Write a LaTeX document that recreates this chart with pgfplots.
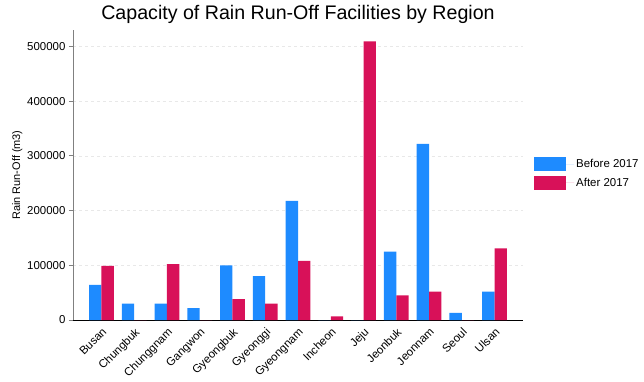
\documentclass[border=0pt]{standalone}
\usepackage{pgfplots}
\pgfplotsset{compat=1.18}
\usepackage{fontspec}
\setmainfont{Liberation Sans}
\definecolor{cblue}{HTML}{1E8BFF}
\definecolor{cred}{HTML}{D81159}
\begin{document}
\begin{tikzpicture}
\begin{axis}[
  scale only axis,
  width=450bp, height=290bp,
  at={(0,0)}, anchor=south west,
  xmin=-0.87, xmax=12.87,
  ymin=0, ymax=530000,
  axis x line*=bottom, axis y line*=left,
  x axis line style={black, line width=0.8pt},
  y axis line style={gray, line width=0.8pt},
  ytick={0,100000,200000,300000,400000,500000},
  scaled y ticks=false,
  /pgf/number format/assume math mode=true,
  yticklabel style={/pgf/number format/fixed, /pgf/number format/1000 sep={}, font=\fontsize{11.5}{13}\selectfont},
  xtick={0,...,12},
  xticklabels={Busan,Chungbuk,Chunggnam,Gangwon,Gyeongbuk,Gyeonggi,Gyeongnam,Incheon,Jeju,Jeonbuk,Jeonnam,Seoul,Ulsan},
  xticklabel style={rotate=45, anchor=north east, font=\fontsize{11.5}{13}\selectfont, inner sep=2pt},
  x tick style={draw=none},
  y tick style={gray, line width=0.8pt},
  tick align=outside,
  major tick length=4bp,
  ymajorgrids,
  grid style={dashed, color=black!9, line width=0.6pt},
  ylabel={Rain Run-Off (m3)},
  ylabel style={font=\fontsize{11}{13}\selectfont, xshift=0bp, yshift=-2bp},
  title={Capacity of Rain Run-Off Facilities by Region},
  title style={font=\fontsize{19.7}{22}\selectfont, yshift=-3bp},
  ybar, bar width=12.3bp,
  legend style={at={(1.0244,0.505)}, anchor=west, draw=none, font=\fontsize{11.5}{13}\selectfont, row sep=5pt, inner sep=0pt},
  legend cell align=left,
  legend image code/.code={\fill[#1] (0bp,-6.75bp) rectangle (32bp,6.75bp); \path (32bp,0) -- (40bp,0);},
  enlarge x limits=false,
]
\addplot[fill=cblue, draw=none, bar shift=-6.15bp] coordinates {
 (0,64000) (1,30000) (2,30000) (3,21500) (4,100000) (5,80000) (6,217500)
 (7,0) (8,0) (9,125000) (10,322000) (11,13000) (12,52000)};
\addplot[fill=cred, draw=none, bar shift=6.15bp] coordinates {
 (0,99000) (1,0) (2,102000) (3,0) (4,38000) (5,30000) (6,108000)
 (7,6500) (8,509000) (9,45000) (10,52000) (11,0) (12,131000)};
\legend{Before 2017, After 2017}
\end{axis}
\path[use as bounding box] (-73bp,-57bp) rectangle (571bp,320bp);
\end{tikzpicture}
\end{document}
